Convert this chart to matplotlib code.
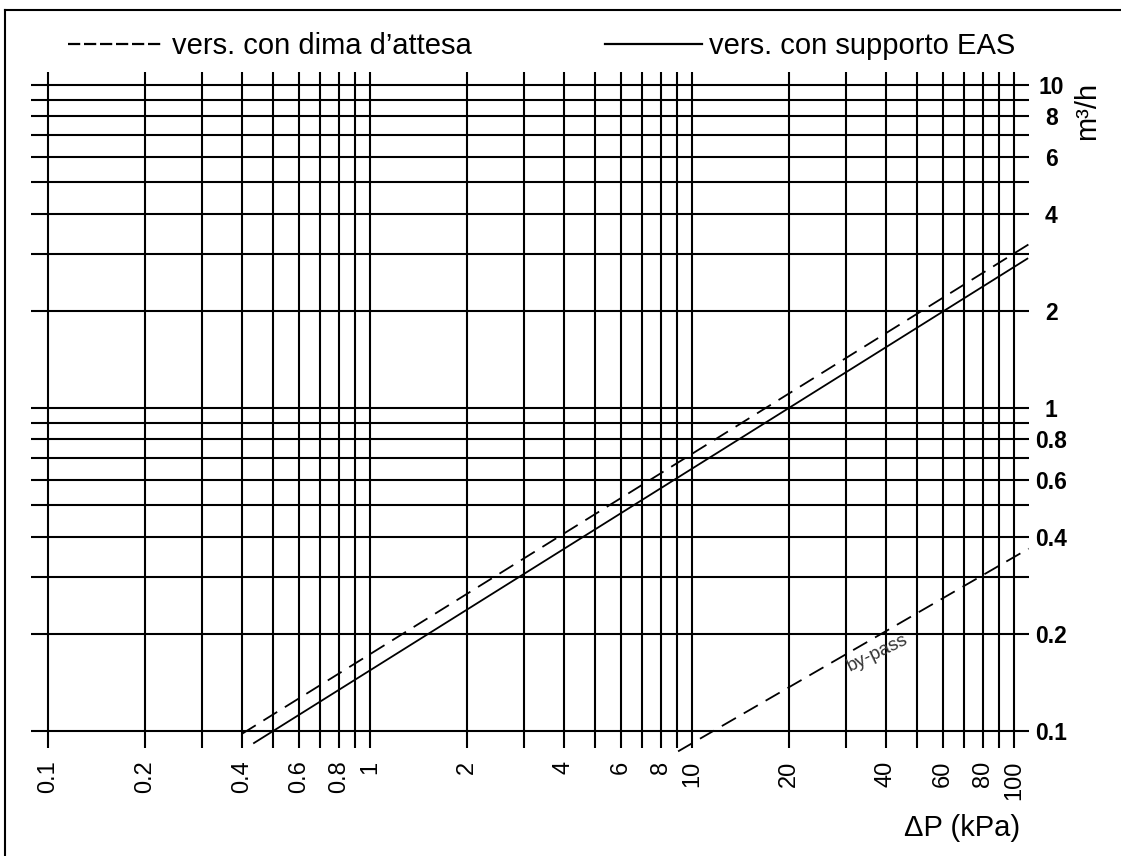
import matplotlib
matplotlib.use("Agg")
import matplotlib.pyplot as plt
from matplotlib.lines import Line2D
from matplotlib.ticker import NullLocator

plt.rcParams['font.family'] = ['Liberation Sans', 'DejaVu Sans']

# ---- data (dP in kPa, Q in m3/h) ----
dp_dima = [0.40, 111.0]
q_dima = [0.098, 3.21]
dp_eas = [0.436, 110.0]
q_eas = [0.0918, 2.90]
dp_bypass = [9.05, 111.0]
q_bypass = [0.0865, 0.367]

x_grid = [0.1, 0.2, 0.3, 0.4, 0.5, 0.6, 0.7, 0.8, 0.9,
          1, 2, 3, 4, 5, 6, 7, 8, 9,
          10, 20, 30, 40, 50, 60, 70, 80, 90, 100]
x_labels = ["0.1", "0.2", "", "0.4", "", "0.6", "", "0.8", "",
            "1", "2", "", "4", "", "6", "", "8", "",
            "10", "20", "", "40", "", "60", "", "80", "", "100"]
y_grid = [0.1, 0.2, 0.3, 0.4, 0.5, 0.6, 0.7, 0.8, 0.9,
          1, 2, 3, 4, 5, 6, 7, 8, 9, 10]
y_labels = ["0.1", "0.2", "", "0.4", "", "0.6", "", "0.8", "",
            "1", "2", "", "4", "", "6", "", "8", "", "10"]

W, H = 1121, 856
fig = plt.figure(figsize=(W / 100, H / 100), dpi=100)
# axes box in pixels: left 31, right 1029, top 72, bottom 748
ax = fig.add_axes([31 / W, 1 - 748 / H, (1029 - 31) / W, (748 - 72) / H])
ax.set_xscale('log')
ax.set_yscale('log')
ax.set_xlim(0.0885, 111.3)
ax.set_ylim(0.0886, 10.97)

for v in x_grid:
    ax.axvline(v, color='black', lw=1.5, zorder=1)
for v in y_grid:
    ax.axhline(v, color='black', lw=1.5, zorder=1)

ax.plot(dp_dima, q_dima, color='black', lw=1.3, dashes=(9, 5), zorder=3)
ax.plot(dp_eas, q_eas, color='black', lw=1.3, zorder=3)
ax.plot(dp_bypass, q_bypass, color='black', lw=1.3, dashes=(9, 5), zorder=3,
        clip_on=False)
ax.text(37.8, 0.175, "by-pass", rotation=26, fontsize=13.5, color='#333333',
        ha='center', va='center', zorder=4)

ax.set_xticks(x_grid)
ax.set_xticklabels(x_labels, rotation=90, fontsize=17)
ax.xaxis.set_minor_locator(NullLocator())
ax.tick_params(axis='x', length=0, pad=9)

ax.yaxis.tick_right()
ax.set_yticks(y_grid)
ax.set_yticklabels(y_labels, fontsize=16.5, fontweight='bold')
ax.yaxis.set_minor_locator(NullLocator())
ax.tick_params(axis='y', length=0, pad=16)
for lab in ax.get_yticklabels():
    lab.set_horizontalalignment('center')

for s in ax.spines.values():
    s.set_visible(False)

fig.text(1087 / W, 1 - 111 / H, "m³/h", rotation=90, fontsize=21,
         ha='center', va='center')
fig.text(1020 / W, 1 - 828 / H, "ΔP (kPa)", fontsize=21, ha='right', va='center')

handles = [Line2D([], [], color='black', lw=1.6, dashes=(5.5, 1.7)),
           Line2D([], [], color='black', lw=1.6)]
fig.legend(handles, ["vers. con dima d’attesa", "vers. con supporto EAS"],
           loc='center left', bbox_to_anchor=(68 / W, 1 - 46 / H), ncol=2,
           frameon=False, fontsize=21, handlelength=3.3, handletextpad=0.25,
           columnspacing=4.6, borderpad=0, borderaxespad=0)

# page frame (only left and top edges visible in the scan)
fig.add_artist(Line2D([5 / W, 5 / W], [0, 1 - 10 / H], color='black', lw=1.5))
fig.add_artist(Line2D([5 / W, 1], [1 - 10 / H, 1 - 10 / H], color='black', lw=1.5))

fig.savefig("out.png", dpi=100)
